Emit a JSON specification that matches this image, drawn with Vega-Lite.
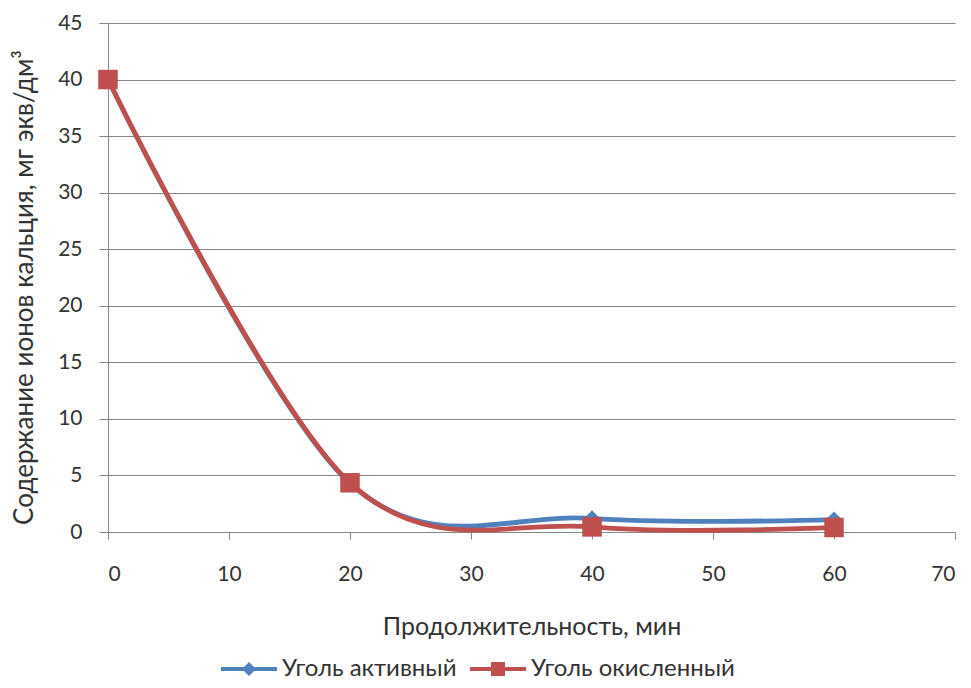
{
  "$schema": "https://vega.github.io/schema/vega-lite/v6.json",
  "width": 847,
  "height": 509,
  "autosize": "none",
  "padding": {"left": 108, "top": 23, "right": 16, "bottom": 156},
  "background": "white",
  "config": {
    "font": "Lato",
    "view": {"stroke": null},
    "axis": {
      "labelFont": "Lato", "titleFont": "Lato",
      "labelFontSize": 21, "titleFontSize": 25,
      "labelColor": "#333333", "titleColor": "#333333",
      "titleFontWeight": "normal",
      "domainColor": "#868686", "tickColor": "#868686", "gridColor": "#868686",
      "domainWidth": 1, "tickWidth": 1, "gridWidth": 1
    },
    "legend": {"labelFont": "Lato", "labelFontSize": 24, "labelColor": "#333333", "labelLimit": 400}
  },
  "data": {
    "values": [
      {"t": 0, "v": 40, "series": "Уголь активный"},
      {"t": 20, "v": 4.3, "series": "Уголь активный"},
      {"t": 40, "v": 1.2, "series": "Уголь активный"},
      {"t": 60, "v": 1.1, "series": "Уголь активный"},
      {"t": 0, "v": 40, "series": "Уголь окисленный"},
      {"t": 20, "v": 4.35, "series": "Уголь окисленный"},
      {"t": 40, "v": 0.45, "series": "Уголь окисленный"},
      {"t": 60, "v": 0.4, "series": "Уголь окисленный"}
    ]
  },
  "encoding": {
    "x": {
      "field": "t", "type": "quantitative",
      "scale": {"domain": [0, 70], "nice": false, "zero": false},
      "axis": {
        "title": "Продолжительность, мин",
        "values": [0, 10, 20, 30, 40, 50, 60, 70],
        "grid": false, "tickSize": 7, "labelPadding": 24, "titlePadding": 30
      }
    },
    "y": {
      "field": "v", "type": "quantitative",
      "scale": {"domain": [0, 45], "nice": false},
      "axis": {
        "title": "Содержание ионов кальция, мг экв/дм³",
        "titleFontSize": 26, "titleY": 264,
        "values": [0, 5, 10, 15, 20, 25, 30, 35, 40, 45],
        "grid": true, "tickSize": 9, "labelPadding": 17, "titlePadding": 20
      }
    }
  },
  "layer": [
    {
      "mark": {"type": "line", "interpolate": "cardinal", "strokeWidth": 4.8},
      "encoding": {
        "color": {
          "field": "series", "type": "nominal",
          "scale": {"domain": ["Уголь активный", "Уголь окисленный"], "range": ["#4F81BD", "#C0504D"]},
          "legend": {
            "title": null, "orient": "none", "direction": "horizontal",
            "legendX": 129, "legendY": 634,
            "symbolSize": 196, "labelOffset": 21, "columnPadding": 13,
            "symbolOpacity": 1, "symbolStrokeWidth": 0
          }
        }
      }
    },
    {
      "transform": [{"filter": "datum.series == 'Уголь активный'"}],
      "mark": {"type": "point", "shape": "diamond", "filled": true, "opacity": 1, "size": 260, "color": "#4F81BD"}
    },
    {
      "transform": [{"filter": "datum.series == 'Уголь окисленный'"}],
      "mark": {"type": "point", "shape": "square", "filled": true, "opacity": 1, "size": 380, "color": "#C0504D"}
    },
    {
      "transform": [{"filter": "datum.t < 0"}],
      "mark": {"type": "point", "filled": true, "opacity": 1},
      "encoding": {
        "color": {
          "field": "series", "type": "nominal",
          "scale": {"domain": ["Уголь активный", "Уголь окисленный"], "range": ["#4F81BD", "#C0504D"]}
        },
        "shape": {
          "field": "series", "type": "nominal",
          "scale": {
            "domain": ["Уголь активный", "Уголь окисленный"],
            "range": ["M-4,-0.3H4V0.3H-4Z M0,-1L1,0L0,1L-1,0Z", "M-4,-0.3H4V0.3H-4Z M-1,-1H1V1H-1Z"]
          },
          "legend": {
            "title": null, "orient": "none", "direction": "horizontal",
            "legendX": 129, "legendY": 634,
            "symbolSize": 196, "labelOffset": 21, "columnPadding": 13,
            "symbolOpacity": 1, "symbolStrokeWidth": 0
          }
        }
      }
    }
  ]
}
